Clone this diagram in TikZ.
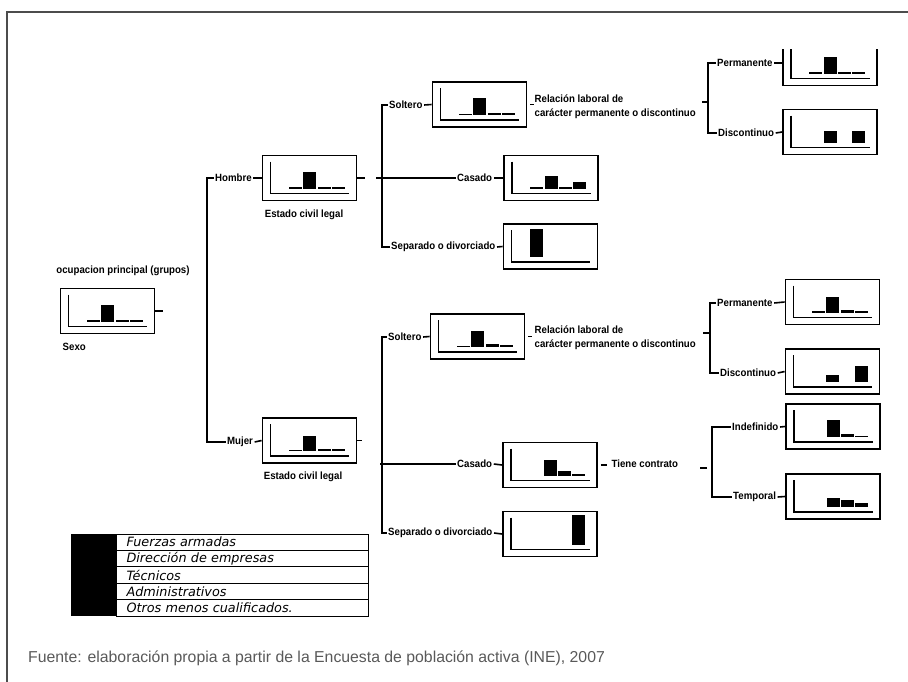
\documentclass[tikz,border=0pt]{standalone}
\usepackage{fontspec}
\usetikzlibrary{positioning, calc}
\newfontfamily\lblfont[FakeStretch=0.92]{Liberation Sans}
\newfontfamily\legfont{DejaVu Sans}
\newfontfamily\srcfont{Liberation Sans}

\begin{document}
\begin{tikzpicture}[x=1pt, y=-1pt,
    chartbox/.style={draw, line width=1.8pt, minimum width=94pt, minimum height=45pt, inner sep=0pt},
    axis/.style={line width=1.3pt},
    conn/.style={line width=1.6pt},
    lbl/.style={font=\lblfont\bfseries\fontsize{10.5}{14}\selectfont, inner sep=1.5pt},
    legcell/.style={draw, line width=1pt, anchor=west, minimum height=16.4pt, inner ysep=0pt,
                    inner xsep=10pt, text width=232pt, font=\legfont\itshape\fontsize{12.8}{14}\selectfont}]
    \useasboundingbox (0,0) rectangle (908,682);

    % Frame
    \draw[line width=1.2pt, black!70] (908,12) -- (7,12) -- (7,682);

    % Chart boxes (top edge of the picture cuts the first one)
    \begin{scope}
        \clip (0,50) rectangle (908,682);
        \foreach \n/\x/\y in {sexo/107.5/311, hombre/309.5/178, mujer/309.5/440.5,
                              solH/479.5/104.5, casH/551/178, sepH/550.5/246.5,
                              perH/830/63, disH/830/132,
                              solM/477.5/336.5, casM/550/465, sepM/550/534,
                              perM/832.5/302, disM/832.5/371.5, ind/833/426.5, tem/833/496.5} {
            \node[chartbox] (\n) at (\x,\y) {};
        }
        % Axes and bars
        \foreach \n/\a/\b/\c/\d/\e in {sexo/0/1.5/17/2/2, hombre/0/1.5/17/2/2, mujer/0/1.5/15/2/2,
                                      solH/0/1.5/17/2/2, casH/0/1.5/13/1.5/7, sepH/0/28/0/0/0,
                                      perH/0/1.5/17/1.5/1.5, disH/0/0/12/0/12,
                                      solM/0/1.5/16/3/2, casM/0/0/16/5/1.5, sepM/0/0/0/0/30,
                                      perM/0/1.5/16/3/1.5, disM/0/0/7/0/16, ind/0/0/17/3/1.5, tem/0/0/9/7/4} {
            \draw[axis] ($(\n.north west)+(9,7)$) |- ($(\n.south east)+(-8,-8)$);
            \foreach \h [count=\i from 0] in {\a,\b,\c,\d,\e} {
                \ifdim \h pt>0pt
                    \fill ($(\n.south west)+({13+14.3*\i},-12.5)$) rectangle ++(13,{-\h});
                \fi
            }
        }
    \end{scope}

    % Labels
    \node[lbl] (ocup) at (123,271) {ocupacion principal (grupos)};
    \node[lbl, anchor=west] (sexol) at (61,347) {Sexo};
    \node[lbl, anchor=west] (hom) at (213.5,178) {Hombre};
    \node[lbl, anchor=west] (muj) at (225.5,442) {Mujer};
    \node[lbl] (estH) at (304,215) {Estado civil legal};
    \node[lbl] (estM) at (303,477) {Estado civil legal};
    \node[lbl, anchor=west] (solHl) at (387.5,105) {Soltero};
    \node[lbl, anchor=west] (casHl) at (455.5,178) {Casado};
    \node[lbl, anchor=west] (sepHl) at (389.5,247) {Separado o divorciado};
    \node[lbl, anchor=west] (solMl) at (386.5,337) {Soltero};
    \node[lbl, anchor=west] (casMl) at (455.5,464) {Casado};
    \node[lbl, anchor=west] (sepMl) at (386.5,533) {Separado o divorciado};
    \node[lbl, anchor=west, align=left] (relH) at (533,107) {Relación laboral de\\carácter permanente o discontinuo};
    \node[lbl, anchor=west, align=left] (relM) at (533,338) {Relación laboral de\\carácter permanente o discontinuo};
    \node[lbl, anchor=west] (tiene) at (610,464) {Tiene contrato};
    \node[lbl, anchor=west] (perHl) at (715.5,63) {Permanente};
    \node[lbl, anchor=west] (disHl) at (716.5,133) {Discontinuo};
    \node[lbl, anchor=west] (perMl) at (715.5,303) {Permanente};
    \node[lbl, anchor=west] (disMl) at (718.5,373) {Discontinuo};
    \node[lbl, anchor=west] (indl) at (730.5,427) {Indefinido};
    \node[lbl, anchor=west] (teml) at (731.5,497) {Temporal};

    % Bracket joints
    \coordinate (bS) at (207,310);
    \coordinate (bH) at (382,178);
    \coordinate (bM) at (382,464);
    \coordinate (bR1) at (708,102);
    \coordinate (bR2) at (710,333);
    \coordinate (bR3) at (712,468);

    % Brackets
    \draw[conn] (hom.west) -| (bS) |- (muj.west);
    \draw[conn] (solHl.west) -| (bH) |- (sepHl.west);
    \draw[conn] ([xshift=-6pt]bH) -- (casHl.west);
    \draw[conn] (solMl.west) -| (bM) |- (sepMl.west);
    \draw[conn] ([xshift=-2pt]bM) -- (casMl.west);
    \draw[conn] (perHl.west) -| (bR1) |- (disHl.west);
    \draw[conn] (bR1) -- ++(-6,0);
    \draw[conn] (perMl.west) -| (bR2) |- (disMl.west);
    \draw[conn] (bR2) -- ++(-7,0);
    \draw[conn] (indl.west) -| (bR3) |- (teml.west);
    \draw[conn] (bR3) ++(-5,0) -- ++(-7,0);

    % Label to box dashes
    \foreach \l/\b in {hom/hombre, muj/mujer, solHl/solH, casHl/casH, sepHl/sepH,
                       solMl/solM, casMl/casM, sepMl/sepM, perHl/perH, disHl/disH,
                       perMl/perM, disMl/disM, indl/ind, teml/tem} {
        \draw[conn] (\l.east) -- (\b.west);
    }

    % Stubs after boxes
    \draw[conn] (sexo.east) -- ++(8,0);
    \draw[conn] (hombre.east) -- ++(8,0);
    \draw[conn] (mujer.east) -- ++(5,0);
    \draw[conn] (solH.east) ++(3,0) -- ++(4,0);
    \draw[conn] (solM.east) ++(3,0) -- ++(4,0);
    \draw[conn] (casM.east) ++(3,0) -- ++(6,0);

    % Legend
    \node[fill=black, anchor=north west, minimum width=45pt, minimum height=82pt, inner sep=0pt] (legkey) at (71,534) {};
    \foreach \t [count=\i] in {Fuerzas armadas, Dirección de empresas, Técnicos, Administrativos, Otros menos cualificados.} {
        \node[legcell] (leg\i) at (116,{534+16.4*(\i-0.5)}) {\t};
    }

    % Source
    \node[anchor=west, text=black!65, font=\srcfont\fontsize{15.8}{18}\selectfont, inner sep=0pt] (fuente) at (28,658)
        {Fuente: elaboración propia a partir de la Encuesta de población activa (INE), 2007};
\end{tikzpicture}
\end{document}
